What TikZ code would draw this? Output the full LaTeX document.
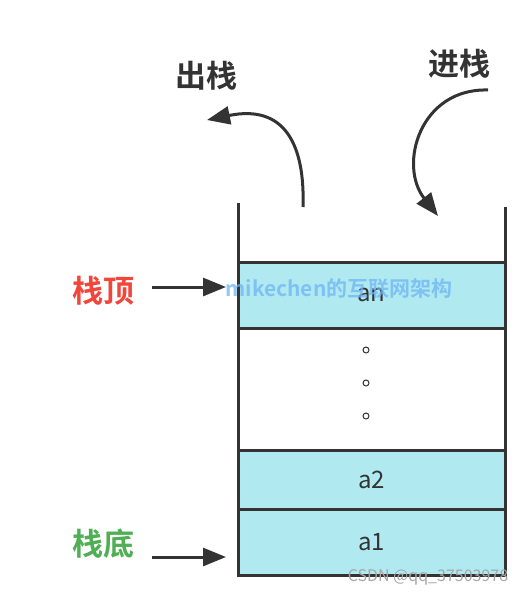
\documentclass[tikz,border=0pt]{standalone}
\usepackage{fontspec}
\setmainfont{Noto Sans CJK SC}
\newfontfamily\cjkb{Noto Sans CJK SC Bold}
\usetikzlibrary{arrows.meta}
\definecolor{cellfill}{RGB}{176,234,240}
\definecolor{ink}{RGB}{51,51,51}
\definecolor{topred}{RGB}{240,70,60}
\definecolor{botgreen}{RGB}{80,175,85}
\definecolor{wmblue}{RGB}{110,180,245}
\tikzset{
  cell/.style={draw=ink, line width=3pt, fill=cellfill, minimum width=267pt, inner sep=0pt, font=\fontsize{24}{24}\selectfont, text=ink},
  blank/.style={draw=ink, line width=3pt, fill=white, minimum width=267pt, inner sep=0pt},
  wall/.style={draw=ink, line width=3pt},
  conn/.style={draw=ink, line width=3pt, -{Triangle[length=23pt,width=18pt]}},
  lbl/.style={font=\cjkb\fontsize{31}{31}\selectfont, text=ink, inner sep=0pt},
}
\begin{document}
\begin{tikzpicture}[x=1pt,y=-1pt]
\useasboundingbox (0,0) rectangle (529,594);
% walls
\coordinate (lwtop) at (238,203);
\coordinate (rwtop) at (505,207);
\coordinate (lwbot) at (238,575);
\coordinate (rwbot) at (505,575);
\draw[wall] (lwtop) -- (lwbot);
\draw[wall] (rwtop) -- (rwbot);
% cells
\node[blank, minimum height=122pt] (dots) at (371.5,389) {};
\node[cell, minimum height=66pt] (an) at (371.5,295) {\raisebox{-4pt}{an}};
\node[cell, minimum height=59pt] (a2) at (371.5,479.5) {a2};
\node[cell, minimum height=66pt] (a1) at (371.5,542) {a1};
\foreach \yy/\nm in {350/d1,383/d2,416/d3}{
  \node[draw=ink, line width=1pt, circle, minimum size=6pt, inner sep=0pt] (\nm) at (366,\yy) {};
}
% labels
\node[lbl] (out) at (206,76) {出栈};
\node[lbl] (in) at (459,64) {进栈};
\node[lbl, text=topred] (top) at (103,291) {栈顶};
\node[lbl, text=botgreen] (bot) at (103,544) {栈底};
% arrows
\coordinate (topA) at (152,287);
\coordinate (topB) at (226,287);
\coordinate (botA) at (152,557);
\coordinate (botB) at (226,557);
\draw[conn] (topA) -- (topB);
\draw[conn] (botA) -- (botB);
\coordinate (outA) at (303,207);
\coordinate (outB) at (207,120);
\draw[conn] (outA) .. controls (305,145) and (285,104) .. (outB);
\coordinate (inA) at (488,90);
\coordinate (inB) at (438,216);
\draw[conn] (inA) .. controls (420,88) and (398,165) .. (inB);
% watermarks
\node[font=\cjkb\fontsize{21}{21}\selectfont, text=wmblue, opacity=0.75, inner sep=0pt] (wm) at (339,289) {mikechen的互联网架构};
\node[font=\fontsize{16}{16}\selectfont, text=gray!70, inner sep=0pt] (csdn) at (428,577) {CSDN @qq\_37503978};
\end{tikzpicture}
\end{document}
